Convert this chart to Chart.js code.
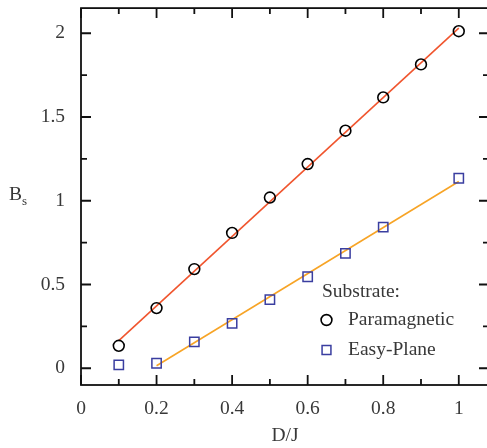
<!DOCTYPE html>
<html><head><meta charset="utf-8">
<script src="https://cdn.jsdelivr.net/npm/chart.js@4"></script>
<style>
html,body{margin:0;padding:0;overflow:hidden;background:#fff;width:487px;height:448px}
#wrap{position:absolute;left:0;top:0;width:500px;height:448px}
</style></head>
<body><div id="wrap"><canvas id="c" width="500" height="448"></canvas></div>
<script>
// ---- data ----
const paraX = [0.1, 0.2, 0.3, 0.4, 0.5, 0.6, 0.7, 0.8, 0.9, 1.0];
const paraY = [0.134, 0.359, 0.592, 0.808, 1.019, 1.219, 1.418, 1.617, 1.814, 2.012];
const easyX = [0.1, 0.2, 0.3, 0.4, 0.5, 0.6, 0.7, 0.8, 1.0];
const easyY = [0.02, 0.03, 0.157, 0.268, 0.41, 0.546, 0.686, 0.842, 1.134];
const paraFitX = [0.1, 1.0];
const paraFitY = [0.165, 2.03];
const easyFitX = [0.2, 1.0];
const easyFitY = [0.015, 1.115];
const xTickValues = [0, 0.2, 0.4, 0.6, 0.8, 1];
const xTickLabels = ['0', '0.2', '0.4', '0.6', '0.8', '1'];
const xMinorValues = [0.1, 0.3, 0.5, 0.7, 0.9];
const yTickValues = [0, 0.5, 1, 1.5, 2];
const yTickLabels = ['0', '0.5', '1', '1.5', '2'];
const yMinorValues = [0.25, 0.75, 1.25, 1.75];
const legendTitle = 'Substrate:';
const xTitle = 'D/J';
const yTitleMain = 'B';
const yTitleSub = 's';

const pts = (xs, ys) => xs.map((x, i) => ({x: x, y: ys[i]}));
const FONT = "'Liberation Serif', 'DejaVu Serif', serif";
const FS = 19.5;
const TEXT = '#383838';

const framePlugin = {
  id: 'frame',
  afterDraw(chart) {
    const ctx = chart.ctx, a = chart.chartArea;
    const xs = chart.scales.x, ys = chart.scales.y;
    ctx.save();
    ctx.strokeStyle = '#111';
    ctx.lineWidth = 1.8;
    ctx.strokeRect(a.left, a.top, a.right - a.left, a.bottom - a.top);
    ctx.beginPath();
    const major = 10, minor = 6;
    xTickValues.forEach(v => { const p = xs.getPixelForValue(v);
      ctx.moveTo(p, a.bottom); ctx.lineTo(p, a.bottom - major);
      ctx.moveTo(p, a.top); ctx.lineTo(p, a.top + major); });
    xMinorValues.forEach(v => { const p = xs.getPixelForValue(v);
      ctx.moveTo(p, a.bottom); ctx.lineTo(p, a.bottom - minor);
      ctx.moveTo(p, a.top); ctx.lineTo(p, a.top + minor); });
    yTickValues.forEach(v => { const p = ys.getPixelForValue(v);
      ctx.moveTo(a.left, p); ctx.lineTo(a.left + major, p);
      ctx.moveTo(a.right, p); ctx.lineTo(a.right - major, p); });
    yMinorValues.forEach(v => { const p = ys.getPixelForValue(v);
      ctx.moveTo(a.left, p); ctx.lineTo(a.left + minor, p);
      ctx.moveTo(a.right, p); ctx.lineTo(a.right - minor, p); });
    ctx.stroke();

    // horizontal y-axis title
    ctx.fillStyle = TEXT;
    ctx.textBaseline = 'alphabetic';
    ctx.textAlign = 'left';
    ctx.font = FS + 'px ' + FONT;
    const ty = ys.getPixelForValue(1);
    ctx.fillText(yTitleMain, 9, ty - 1);
    const bw = ctx.measureText(yTitleMain).width;
    ctx.font = '13px ' + FONT;
    ctx.fillText(yTitleSub, 9 + bw, ty + 4);

    // legend
    ctx.font = FS + 'px ' + FONT;
    ctx.textBaseline = 'middle';
    const lx = 322, ly = 292, gap = 28;
    ctx.fillText(legendTitle, lx, ly);
    [0, 1].forEach(i => {
      const ds = chart.data.datasets[i];
      const yy = ly + gap * (i + 1) + (i === 1 ? 2 : 0);
      ctx.strokeStyle = ds.pointBorderColor;
      ctx.fillStyle = 'rgba(0,0,0,0)';
      ctx.lineWidth = ds.pointBorderWidth;
      Chart.helpers.drawPoint(ctx, {pointStyle: ds.pointStyle, radius: ds.pointRadius * (i === 1 ? 0.95 : 1), borderWidth: ds.pointBorderWidth}, lx + 4.5, yy);
      ctx.fillStyle = TEXT;
      ctx.fillText(ds.label, 348, yy);
    });
    ctx.restore();
  }
};

const noPad = s => { s.paddingTop = 0; s.paddingBottom = 0; s.paddingLeft = 0; s.paddingRight = 0; };

new Chart(document.getElementById('c'), {
  type: 'scatter',
  data: {
    datasets: [
      {label: 'Paramagnetic', data: pts(paraX, paraY), pointStyle: 'circle', pointRadius: 5.4,
       pointBorderColor: '#000', pointBackgroundColor: 'rgba(0,0,0,0)', pointBorderWidth: 1.6, showLine: false, order: 1},
      {label: 'Easy-Plane', data: pts(easyX, easyY), pointStyle: 'rect', pointRadius: 6.6,
       pointBorderColor: '#3a3ea0', pointBackgroundColor: 'rgba(0,0,0,0)', pointBorderWidth: 1.5, showLine: false, order: 1},
      {label: 'fitP', data: pts(paraFitX, paraFitY), showLine: true, pointRadius: 0,
       borderColor: '#f0552e', borderWidth: 1.6, order: 2},
      {label: 'fitE', data: pts(easyFitX, easyFitY), showLine: true, pointRadius: 0,
       borderColor: '#f7a426', borderWidth: 1.6, order: 2}
    ]
  },
  options: {
    responsive: false, animation: false, devicePixelRatio: 1,
    layout: {padding: {left: 0, right: 11, top: 5, bottom: 0}},
    plugins: {legend: {display: false}, tooltip: {enabled: false}},
    scales: {
      x: {
        type: 'linear', min: 0, max: 1.08,
        afterBuildTicks: s => { s.ticks = xTickValues.map(v => ({value: v})); },
        afterFit: s => { s.height = 63; noPad(s); },
        grid: {display: false, drawTicks: false},
        border: {display: false},
        ticks: {padding: 12, color: TEXT, font: {family: FONT, size: FS},
                callback: (v) => { const i = xTickValues.indexOf(v); return i >= 0 ? xTickLabels[i] : ''; },
                maxRotation: 0, autoSkip: false},
        title: {display: true, text: xTitle, color: TEXT, font: {family: FONT, size: FS}, padding: {top: 0, bottom: 0}}
      },
      y: {
        type: 'linear', min: -0.1, max: 2.15,
        afterBuildTicks: s => { s.ticks = yTickValues.map(v => ({value: v})); },
        afterFit: s => { s.width = 81; noPad(s); },
        grid: {display: false, drawTicks: false},
        border: {display: false},
        ticks: {padding: 16, color: TEXT, font: {family: FONT, size: FS},
                callback: (v) => { const i = yTickValues.indexOf(v); return i >= 0 ? yTickLabels[i] : ''; },
                autoSkip: false}
      }
    }
  },
  plugins: [framePlugin]
});
</script>
</body></html>
